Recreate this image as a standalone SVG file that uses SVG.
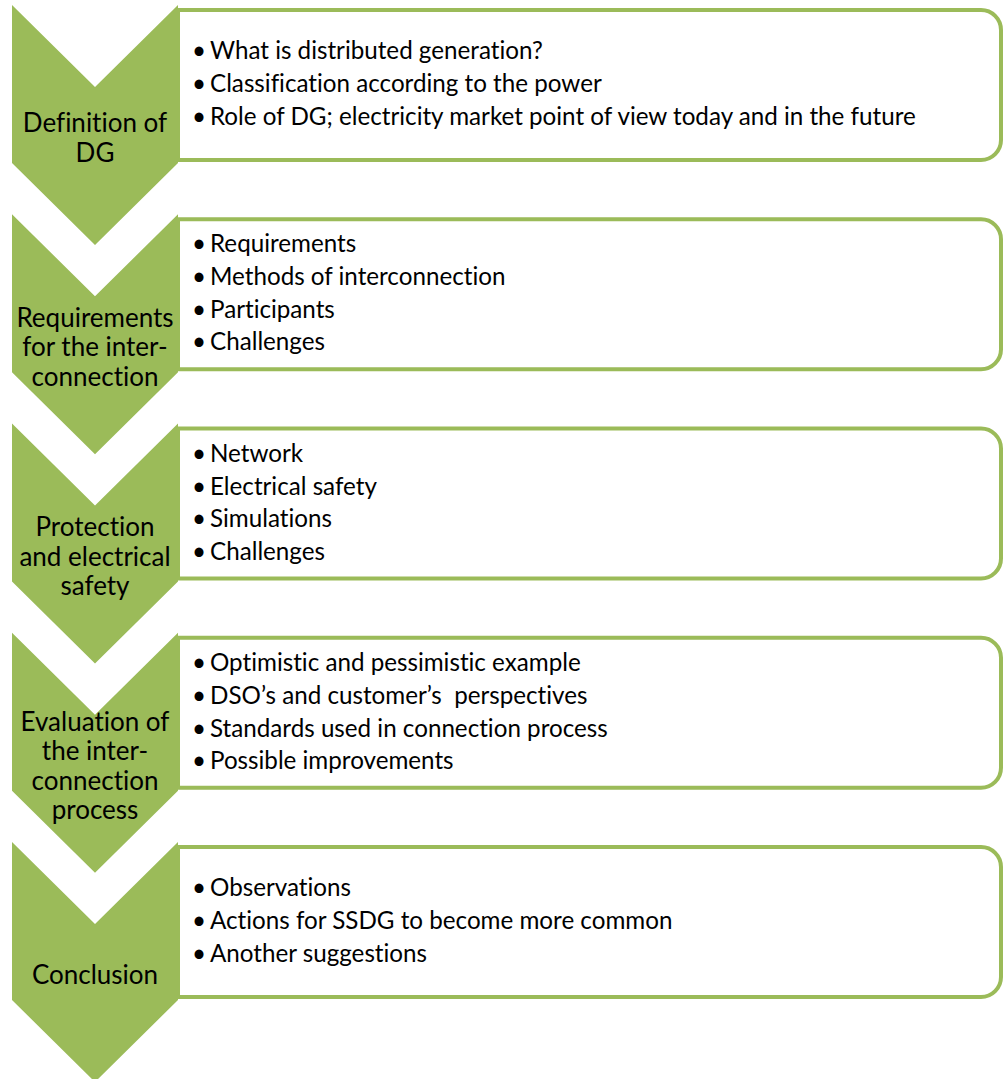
<svg xmlns="http://www.w3.org/2000/svg" width="1004" height="1079" viewBox="0 0 1004 1079">
  <style>
    .chev { fill: #9BBB59; }
    .box { fill: #FFFFFF; stroke: #9BBB59; stroke-width: 4; }
    .lbl { font-family: Lato, "Liberation Sans", sans-serif; font-size: 26px; fill: #000000; text-anchor: middle; font-variant-ligatures: none; }
    .item { font-family: Lato, "Liberation Sans", sans-serif; font-size: 24.2px; fill: #000000; white-space: pre; font-variant-ligatures: none; }
    .dot { font-family: Lato, "Liberation Sans", sans-serif; font-size: 24.2px; fill: #000000; text-anchor: middle; }
  </style>
  <defs>
    <!-- chevron shape with its top at y=0 -->
    <polygon id="chevron" points="12,0 95,82 178,0 178,158 95,240 12,158"/>
    <!-- content panel, square on the left, rounded on the right -->
    <path id="panel" d="M178,0 H981 A20,20 0 0 1 1001,20 V130 A20,20 0 0 1 981,150 H178 Z"/>
  </defs>

  <rect width="1004" height="1079" fill="#FFFFFF"/>

  <g id="connectors"/>

  <!-- Step 1 -->
  <g id="step1">
    <use href="#panel" class="box" transform="translate(0,10)"/>
    <use href="#chevron" class="chev" transform="translate(0,5)"/>
    <text class="lbl" x="95" y="132">Definition of</text>
    <text class="lbl" x="95" y="162">DG</text>
    <text class="dot" x="199" y="59">•</text><text class="item" x="210" y="59">What is distributed generation?</text>
    <text class="dot" x="199" y="92">•</text><text class="item" x="210" y="92">Classification according to the power</text>
    <text class="dot" x="199" y="125">•</text><text class="item" x="210" y="125">Role of DG; electricity market point of view today and in the future</text>
  </g>

  <!-- Step 2 -->
  <g id="step2">
    <use href="#panel" class="box" transform="translate(0,219.25)"/>
    <use href="#chevron" class="chev" transform="translate(0,214.25)"/>
    <text class="lbl" x="95" y="327">Requirements</text>
    <text class="lbl" x="95" y="356">for the inter-</text>
    <text class="lbl" x="95" y="386">connection</text>
    <text class="dot" x="199" y="252">•</text><text class="item" x="210" y="252">Requirements</text>
    <text class="dot" x="199" y="285">•</text><text class="item" x="210" y="285">Methods of interconnection</text>
    <text class="dot" x="199" y="318">•</text><text class="item" x="210" y="318">Participants</text>
    <text class="dot" x="199" y="350">•</text><text class="item" x="210" y="350">Challenges</text>
  </g>

  <!-- Step 3 -->
  <g id="step3">
    <use href="#panel" class="box" transform="translate(0,428.5)"/>
    <use href="#chevron" class="chev" transform="translate(0,423.5)"/>
    <text class="lbl" x="95" y="536">Protection</text>
    <text class="lbl" x="95" y="566">and electrical</text>
    <text class="lbl" x="95" y="595">safety</text>
    <text class="dot" x="199" y="462">•</text><text class="item" x="210" y="462">Network</text>
    <text class="dot" x="199" y="495">•</text><text class="item" x="210" y="495">Electrical safety</text>
    <text class="dot" x="199" y="527">•</text><text class="item" x="210" y="527">Simulations</text>
    <text class="dot" x="199" y="560">•</text><text class="item" x="210" y="560">Challenges</text>
  </g>

  <!-- Step 4 -->
  <g id="step4">
    <use href="#panel" class="box" transform="translate(0,637.75)"/>
    <use href="#chevron" class="chev" transform="translate(0,632.75)"/>
    <text class="lbl" x="95" y="731">Evaluation of</text>
    <text class="lbl" x="95" y="760">the inter-</text>
    <text class="lbl" x="95" y="790">connection</text>
    <text class="lbl" x="95" y="819">process</text>
    <text class="dot" x="199" y="671">•</text><text class="item" x="210" y="671">Optimistic and pessimistic example</text>
    <text class="dot" x="199" y="704">•</text><text class="item" x="210" y="704">DSO’s and customer’s  perspectives</text>
    <text class="dot" x="199" y="737">•</text><text class="item" x="210" y="737">Standards used in connection process</text>
    <text class="dot" x="199" y="769">•</text><text class="item" x="210" y="769">Possible improvements</text>
  </g>

  <!-- Step 5 -->
  <g id="step5">
    <use href="#panel" class="box" transform="translate(0,847)"/>
    <use href="#chevron" class="chev" transform="translate(0,842)"/>
    <text class="lbl" x="95" y="984">Conclusion</text>
    <text class="dot" x="199" y="896">•</text><text class="item" x="210" y="896">Observations</text>
    <text class="dot" x="199" y="929">•</text><text class="item" x="210" y="929">Actions for SSDG to become more common</text>
    <text class="dot" x="199" y="962">•</text><text class="item" x="210" y="962">Another suggestions</text>
  </g>
</svg>
